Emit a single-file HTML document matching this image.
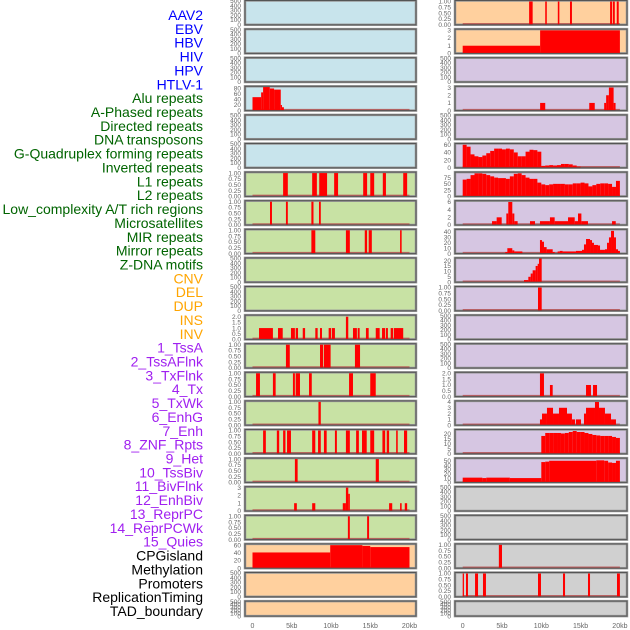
<!DOCTYPE html>
<html><head><meta charset="utf-8"><style>
body{margin:0;background:#fff;width:630px;height:630px;overflow:hidden}
svg{display:block;font-family:"Liberation Sans",sans-serif}
</style></head><body>
<svg id="c" width="630" height="630" viewBox="0 0 630 630"></svg>
<script>
// ---------- data ----------
const labelNames = ["AAV2","EBV","HBV","HIV","HPV","HTLV-1","Alu repeats","A-Phased repeats","Directed repeats","DNA transposons","G-Quadruplex forming repeats","Inverted repeats","L1 repeats","L2 repeats","Low_complexity A/T rich regions","Microsatellites","MIR repeats","Mirror repeats","Z-DNA motifs","CNV","DEL","DUP","INS","INV","1_TssA","2_TssAFlnk","3_TxFlnk","4_Tx","5_TxWk","6_EnhG","7_Enh","8_ZNF_Rpts","9_Het","10_TssBiv","11_BivFlnk","12_EnhBiv","13_ReprPC","14_ReprPCWk","15_Quies","CPGisland","Methylation","Promoters","ReplicationTiming","TAD_boundary"];
const labelGroups = ["v","v","v","v","v","v","r","r","r","r","r","r","r","r","r","r","r","r","r","s","s","s","s","s","c","c","c","c","c","c","c","c","c","c","c","c","c","c","c","k","k","k","k","k"];
const xTickValues = [0,5,10,15,20];
const xTickLabels = ["0","5kb","10kb","15kb","20kb"];

// segments [startKb, endKb, value]
const segL4 = [[0,1.1,48],[1.1,1.35,65],[1.35,2.2,84],[2.2,2.75,79],[2.75,3.6,75],[3.6,3.75,20],[3.75,4.0,12]];
const segL7 = [[3.9,4.5,1],[7.6,8.2,1],[8.5,9.5,1],[10.4,10.9,1],[14.1,14.6,1],[15.0,15.5,1],[16.6,17.0,1],[19.2,19.7,1]];
const segL8 = [[2.23,2.48,1],[4.26,4.5,1],[7.5,7.77,1],[8.47,8.7,1]];
const segL9 = [[7.5,8.0,1],[11.9,12.4,1],[14.3,14.6,1],[14.8,15.2,1],[18.8,19.0,1]];
const segL12 = [[0.83,2.6,1],[3.25,3.85,1],[4.9,5.4,1],[5.5,5.8,1],[6.4,6.7,1],[8.0,8.3,1],[8.6,8.85,1],[9.7,10.0,1],[10.1,10.5,1],[11.9,12.2,2],[12.8,13.3,1],[13.4,13.65,1],[14.45,14.8,1],[15.7,16.2,1],[16.5,16.9,1],[17.0,17.25,1],[17.6,17.9,1],[18.0,19.2,1]];
const segL13 = [[4.26,4.75,1],[8.6,9.0,1],[9.1,9.95,1],[13.05,13.7,1]];
const segL14 = [[0.45,0.95,1],[2.6,2.95,1],[5.15,5.4,1],[5.5,6.05,1],[7.2,7.55,1],[12.3,12.8,1],[15.0,15.7,1]];
const segL15 = [[8.4,8.7,1]];
const segL16 = [[1.35,1.7,1],[3.1,3.4,1],[3.9,4.2,1],[4.4,4.9,1],[7.6,8.0,1],[8.35,8.7,1],[9.1,9.45,1],[10.5,10.75,1],[11.9,12.4,1],[13.2,13.55,1],[13.95,14.55,1],[15.0,15.5,1],[16.55,16.9,1],[17.1,17.4,1],[18.3,18.5,1],[19.3,19.7,1]];
const segL17 = [[5.4,5.75,1],[15.7,16.1,1]];
const segL18 = [[5.3,5.65,1],[7.6,8.0,1],[11.5,11.9,1],[11.9,12.2,3],[12.2,12.4,2.2],[17.4,17.8,1],[18.8,19.0,1],[19.4,19.7,1]];
const segL19 = [[12.15,12.4,1],[14.6,14.85,1]];
const segL20 = [[0,9.9,41],[9.9,14.0,60],[14.0,15.0,58],[15.0,20.0,55]];

const segR1 = [[8.45,8.9,1],[10.5,10.7,1],[12.1,12.3,1],[13.65,13.9,1],[18.75,19.0,1],[19.1,19.35,1],[19.6,19.85,1]];
const segR2 = [[0,9.85,1],[9.85,20,3]];
const segR4 = [[9.85,10.5,1],[16.1,16.8,1],[18.0,18.25,1],[18.25,18.6,2],[18.6,19.2,3],[19.2,19.45,1]];
const binR6 = [60,55,35,30,28,32,38,44,50,50,48,50,48,40,30,30,42,47,46,42,5,6,7,6,7,10,10,9,6,3];
const binR7 = [67,70,85,92,92,90,85,80,75,73,73,70,80,90,92,85,75,70,70,55,48,45,48,50,50,50,48,48,52,52,55,52,40,45,50,52,52,50,38,62];
const segR8 = [[3.73,4.32,1],[4.32,4.96,2],[5.55,5.8,3],[5.8,6.31,6],[6.31,6.57,3],[6.57,6.99,1],[8.56,9.2,1],[9.83,11.1,1],[11.1,11.7,2],[11.7,13.4,1],[13.4,14.25,2],[14.25,14.67,1],[14.67,15.1,3],[15.1,15.94,1],[19.0,19.47,1]];
const segR9 = [[5.42,5.68,3],[5.68,6.31,10],[6.31,6.57,6],[6.57,7.59,4],[9.83,10.09,25],[10.09,10.34,22],[10.34,10.68,12],[10.68,11.45,8],[11.45,11.7,3],[12.08,12.34,4],[12.34,12.72,5],[12.72,14.41,4],[14.41,15.18,5],[15.18,15.43,7],[15.43,15.69,17],[15.69,16.2,27],[16.2,16.45,25],[16.45,16.7,20],[16.7,17.21,16],[17.21,17.47,15],[17.47,18.1,7],[18.1,18.36,8],[18.36,18.61,20],[18.61,18.87,30],[18.87,19.25,42],[19.25,19.5,30],[19.5,19.76,8],[19.76,20.0,5]];
const segR10 = [[7.8,8.35,2],[8.35,8.65,5],[8.65,8.9,8],[8.9,9.28,11],[9.28,9.54,15],[9.54,9.71,17],[9.71,10.05,22]];
const segR11 = [[9.58,10.05,1]];
const segR14 = [[9.83,10.34,2],[11.1,11.45,1],[15.69,16.32,1],[16.58,17.09,1]];
const segR15 = [[9.83,10.09,1],[10.09,10.72,2],[10.72,11.49,3],[11.49,12.25,2],[12.25,13.27,3],[13.27,13.9,2],[13.9,14.29,1],[14.41,15.05,1],[15.43,15.69,2],[15.69,16.83,3],[16.83,17.34,4],[17.34,18.1,3],[18.1,18.87,2],[18.87,19.5,1]];
const binR16 = [18,21,21,21,21,20.5,21,22,23,22,22,21,20,19,18.5,18,18,18,17,16];
const segR17 = [[0,2.5,11],[2.5,3,10],[3,6,11],[6,10,10],[10,10.5,47],[10.5,11,48],[11,17,50],[17,18,51],[18,18.5,50],[18.5,19,46],[19,19.5,45],[19.5,20,50]];
const segR20 = [[4.6,5.0,1]];
const segR21 = [[0,0.16,1],[0.42,0.67,1],[1.57,1.95,1],[2.58,2.96,1],[9.58,9.96,1],[12.76,13.02,1],[15.94,16.2,1],[19.63,20.0,1]];

const T500 = [0,100,200,300,400,500];
const T1 = [0,0.25,0.5,0.75,1];

// ---------- drawing ----------
const NS = "http://www.w3.org/2000/svg";
const svg = document.getElementById('c');
function mk(tag, attrs, parent){const e=document.createElementNS(NS,tag);for(const k in attrs)e.setAttribute(k,attrs[k]);(parent||svg).appendChild(e);return e;}

const colors = {v:"#0000ff",r:"#006400",s:"#ffa500",c:"#a020f0",k:"#000000"};
labelNames.forEach((n,i)=>{
  const t = mk('text',{x:203,y:15+i*13.86+5,'text-anchor':'end','font-size':'14',fill:colors[labelGroups[i]]});
  
  
  t.textContent = n;
});

const BG = {b:"#c8e4ec",g:"#c8e2a4",o:"#ffd09e",p:"#d6c6e2",y:"#d0d0d0"};
const cols = {L:{x0:245,x1:416,z:252.5,k:7.85},R:{x0:455,x1:627,z:462.7,k:7.86}};
function xs(col,kb){return cols[col].z+kb*cols[col].k;}
function fmt(v,t){ if(t===T1) return v.toFixed(2); return String(v); }

function segsFromBins(bins,start,step){return bins.map((v,i)=>[start+i*step,start+(i+1)*step,v]);}

const panels = [
 ["L",0,"b",T500,500,null],["L",1,"b",T500,500,null],["L",2,"b",T500,500,null],
 ["L",3,"b",[0,20,40,60,80],85,segL4],["L",4,"b",T500,500,null],["L",5,"b",T500,500,null],
 ["L",6,"g",T1,1.02,segL7],["L",7,"g",T1,1.02,segL8],["L",8,"g",T1,1.02,segL9],
 ["L",9,"g",T500,500,null],["L",10,"g",T500,500,null],
 ["L",11,"g",[0,0.5,1,1.5,2],2.1,segL12,1],["L",12,"g",T1,1.02,segL13],["L",13,"g",T1,1.02,segL14],
 ["L",14,"g",T1,1.02,segL15],["L",15,"g",T1,1.02,segL16],["L",16,"g",T1,1.02,segL17],
 ["L",17,"g",[0,1,2,3],3.05,segL18],["L",18,"g",T1,1.02,segL19],
 ["L",19,"o",[0,20,40,60],62,segL20],["L",20,"o",T500,500,null],["L",21,"o",T500,500,null],
 ["R",0,"o",T1,1.02,segR1],["R",1,"o",[0,1,2,3],3.1,segR2],["R",2,"p",T500,500,null],
 ["R",3,"p",[0,1,2,3],3.1,segR4],["R",4,"p",T500,500,null],
 ["R",5,"p",[0,20,40,60],62,segsFromBins(binR6,0,0.5)],
 ["R",6,"p",[0,25,50,75],95,segsFromBins(binR7,0,0.5)],
 ["R",7,"p",[0,2,4,6],6.2,segR8],["R",8,"p",[0,10,20,30,40],44,segR9],
 ["R",9,"p",[0,5,10,15,20],22,segR10],["R",10,"p",T1,1.02,segR11],
 ["R",11,"p",T500,500,null],["R",12,"p",T500,500,null],
 ["R",13,"p",[0,0.5,1,1.5,2],2.05,segR14,1],["R",14,"p",[0,1,2,3,4],4.1,segR15],
 ["R",15,"p",[0,5,10,15,20],24,segsFromBins(binR16,10,0.5)],
 ["R",16,"p",[0,10,20,30,40,50],55,segR17],
 ["R",17,"y",T500,500,null],["R",18,"y",T500,500,null],
 ["R",19,"y",T1,1.02,segR20],["R",20,"y",T1,1.02,segR21],["R",21,"y",T500,500,null]
];

panels.forEach(p=>{
  const [col,row,bg,ticks,ymax,segs,oneDec]=p;
  const c=cols[col];
  const top=row*28.6+0.5, h=(row===21?15:24.3), bot=top+h;
  const g=mk('g',{});
  
  
  const bgr=mk('rect',{x:c.x0,y:top,width:c.x1-c.x0,height:h,fill:BG[bg],stroke:"#999",'stroke-width':2.5},g);
  
  
  const ys=v=>bot-v/ymax*(h-0.5);
  ticks.forEach(v=>{
    const t=mk('text',{x:c.x0-4,y:ys(v)+2.2,'text-anchor':'end','font-size':'6.5',fill:"#666"},g);
    
    
    t.textContent = oneDec ? v.toFixed(1) : fmt(v,ticks);
  });
  if(segs){
    const bl=mk('line',{x1:xs(col,0),x2:xs(col,20),y1:bot-1,y2:bot-1,stroke:"#b84040",'stroke-width':1.5,opacity:0.7},g);
    
    
    segs.forEach(s=>{
      const x1=xs(col,s[0]), x2=xs(col,s[1]);
      const r=mk('rect',{x:x1,y:ys(s[2]),width:Math.max(x2-x1,1.2),height:bot-ys(s[2]),fill:"#ff0000"},g);
      
      
    });
  }
  mk('rect',{x:c.x0,y:top,width:c.x1-c.x0,height:h,fill:"none",stroke:"#555",'stroke-width':1},g);
});

["L","R"].forEach(col=>{
  xTickValues.forEach((v,i)=>{
    const t=mk('text',{x:xs(col,v),y:628,'text-anchor':'middle','font-size':'7',fill:"#666"});
    
    
    t.textContent=xTickLabels[i];
  });
});
</script>
</body></html>
